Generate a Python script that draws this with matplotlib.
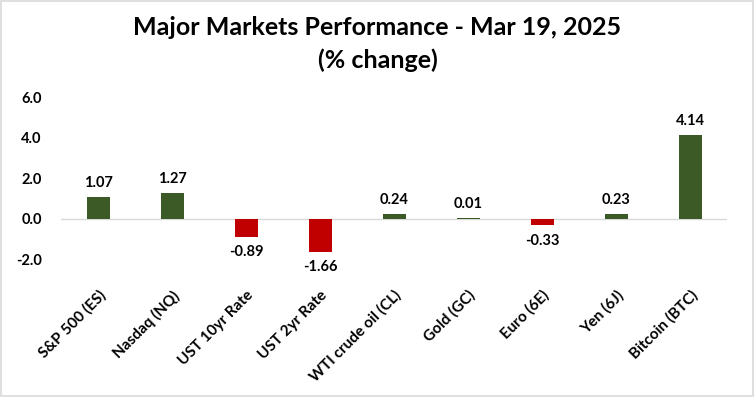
import matplotlib.pyplot as plt
import numpy as np

categories = ['S&P 500 (ES)', 'Nasdaq (NQ)', 'UST 10yr Rate', 'UST 2yr Rate',
              'WTI crude oil (CL)', 'Gold (GC)', 'Euro (6E)', 'Yen (6J)', 'Bitcoin (BTC)']
changes = [1.07, 1.27, -0.89, -1.66, 0.24, 0.01, -0.33, 0.23, 4.14]
yticks = [-2.0, 0.0, 2.0, 4.0, 6.0]

green = '#3b5a25'
red = '#c00000'

plt.rcParams['font.family'] = ['Lato', 'DejaVu Sans']

fig = plt.figure(figsize=(7.55, 3.97), dpi=100)
ax = fig.add_axes([0.081, 0.3476, 0.882, 0.408])

x = np.arange(len(categories))
colors = [green if v >= 0 else red for v in changes]
ax.bar(x, changes, width=0.31, color=colors, zorder=2)

for xi, v in zip(x, changes):
    if v >= 0:
        ax.annotate(f'{v:.2f}', (xi, v), xytext=(0, 5), textcoords='offset points',
                    ha='center', va='bottom', fontsize=10.5, fontweight='bold')
    else:
        ax.annotate(f'{v:.2f}', (xi, v), xytext=(0, -6), textcoords='offset points',
                    ha='center', va='top', fontsize=10.5, fontweight='bold')

ax.axhline(0, color='#d9d9d9', linewidth=1, zorder=1)
ax.set_xlim(-0.5, len(categories) - 0.5)
ax.set_ylim(-2.0, 6.0)
ax.set_yticks(yticks)
ax.set_yticklabels([f'{t:.1f}' for t in yticks], fontsize=10.5, fontweight='bold')
ax.set_xticks(x)
ax.set_xticklabels(categories, rotation=45, ha='right', rotation_mode='anchor',
                   fontsize=11, fontweight='bold')
ax.tick_params(axis='both', length=0)
ax.tick_params(axis='y', pad=14)
ax.tick_params(axis='x', pad=21)
for s in ax.spines.values():
    s.set_visible(False)

fig.text(0.5, 0.93, 'Major Markets Performance - Mar 19, 2025', ha='center', va='center',
         fontsize=18, fontweight='bold')
fig.text(0.5, 0.848, '(% change)', ha='center', va='center', fontsize=18, fontweight='bold')

fig.patches.append(plt.Rectangle((0.001, 0.002), 0.997, 0.995, transform=fig.transFigure,
                                 fill=False, edgecolor='#d9d9d9', linewidth=1.2))

fig.savefig('out.png', dpi=100)
